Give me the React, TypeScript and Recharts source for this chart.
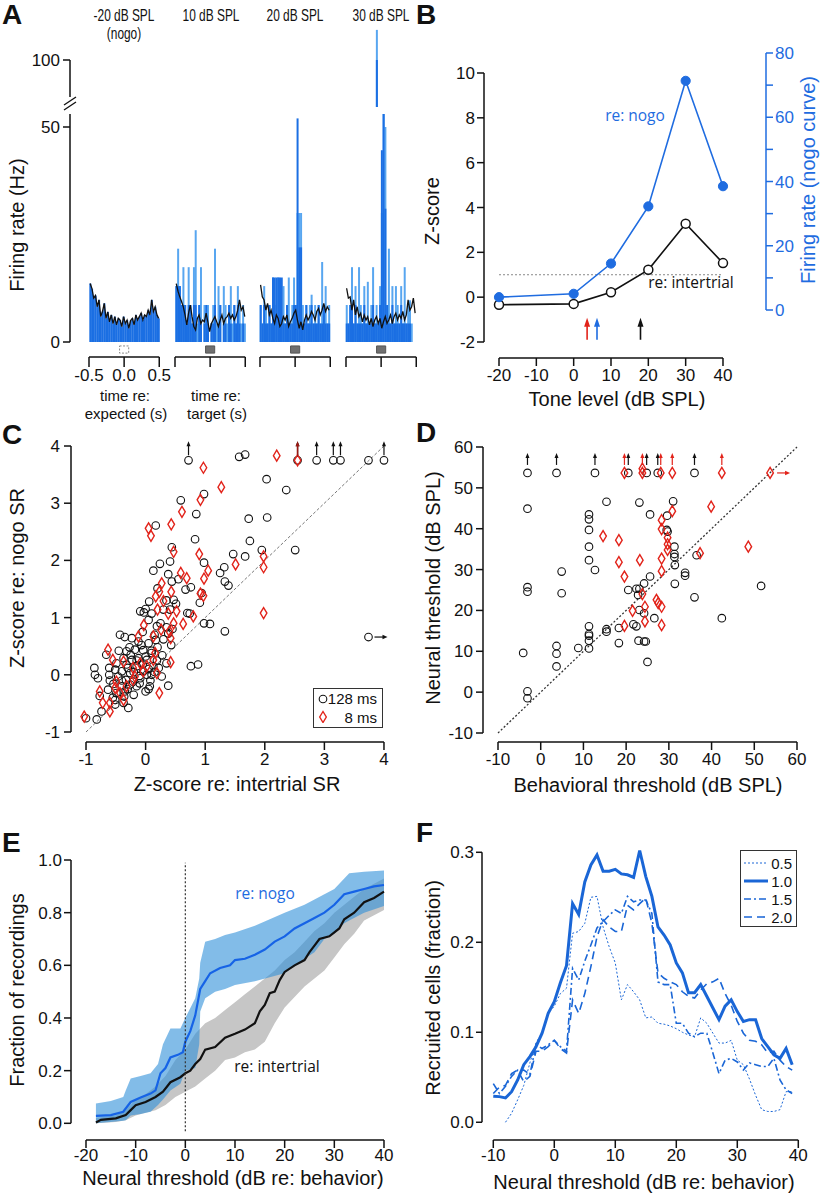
import React from 'react';
import {
  Area,
  Bar,
  ComposedChart,
  Line,
  ReferenceArea,
  ReferenceDot,
  ReferenceLine,
  Scatter,
  ScatterChart,
  XAxis,
  YAxis,
} from 'recharts';

const SANS = '"Liberation Sans", Arial, Helvetica, sans-serif';
const HUMANIST = '"Open Sans", "Noto Sans", sans-serif';
const INK = '#111';
const BLUE = '#1f6ce0';
const RED = '#e2231a';
const PSTH_DARK = '#1b6fe3';
const PSTH_LIGHT = '#58a6f0';

// ---------- A: PSTHs (Hz, 25 ms bins from -0.5 to 0.5 s) ----------
const NOGO_LINE = [13.6, 12.4, 10.2, 10.8, 8.2, 9.8, 5.9, 7.1, 9.0, 5.5, 7.0, 4.7, 6.3, 4.3, 5.9, 4.0, 5.5, 5.1, 3.6, 5.9, 4.3, 5.1, 3.2, 5.0, 5.5, 4.0, 6.3, 5.1, 5.9, 6.7, 5.1, 6.3, 5.9, 7.4, 6.3, 9.8, 7.1, 8.2, 6.3, 5.5];
const T10_LINE = [13.6, 11.8, 10.5, 9.4, 8.2, 6.3, 4.0, 6.7, 8.6, 5.9, 3.6, 2.8, 5.5, 6.3, 4.3, 5.1, 4.7, 6.7, 4.7, 2.4, 4.3, 5.1, 5.9, 4.7, 3.6, 5.1, 6.3, 4.3, 5.5, 5.9, 6.7, 5.5, 6.3, 5.1, 5.9, 7.4, 9.8, 7.4, 8.2, 5.9];
const T10_FINE = [13, 21.7, 13, 8.6, 17.4, 8.6, 4.3, 17.4, 8.6, 4.3, 17.4, 26, 4.3, 8.6, 17.4, 0, 8.6, 4.3, 8.6, 0, 4.3, 8.6, 21.7, 4.3, 13, 8.6, 0, 13, 8.6, 4.3, 8.6, 13, 4.3, 8.6, 4.3, 13, 8.6, 4.3, 8.6, 4.3];
const T10_COARSE = [13, 13, 13, 8.6, 8.6, 8.6, 4.3, 8.6, 8.6, 4.3, 8.6, 8.6, 0, 8.6, 4.3, 0, 4.3, 8.6, 4.3, 0, 4.3, 4.3, 8.6, 0, 4.3, 8.6, 0, 4.3, 4.3, 0, 8.6, 4.3, 0, 8.6, 4.3, 8.6, 4.3, 0, 4.3, 0];
const T20_LINE = [13.3, 10.5, 9.8, 7.4, 9.0, 6.3, 7.4, 5.5, 4.3, 6.3, 5.5, 3.6, 4.3, 5.9, 5.1, 6.3, 3.6, 4.7, 5.5, 6.7, 7.4, 5.1, 3.2, 4.7, 2.8, 5.1, 6.3, 5.1, 5.9, 7.1, 6.3, 5.1, 7.1, 7.8, 6.3, 7.4, 9.0, 7.1, 8.2, 7.4];
const T20_FINE = [8.6, 4.3, 13, 8.6, 4.3, 8.6, 4.3, 15, 8.6, 4.3, 15, 8.6, 4.3, 13, 4.3, 8.6, 15, 4.3, 8.6, 15, 8.6, 30, 30, 30, 8.6, 4.3, 8.6, 4.3, 8.6, 11, 4.3, 8.6, 4.3, 8.6, 4.3, 18.6, 8.6, 13, 4.3, 8.6];
const T20_COARSE = [8.6, 4.3, 8.6, 4.3, 4.3, 8.6, 4.3, 15, 15, 15, 15, 15, 15, 4.3, 4.3, 8.6, 4.3, 4.3, 4.3, 8.6, 8.6, 52, 22, 22, 4.3, 4.3, 8.6, 4.3, 4.3, 8.6, 4.3, 4.3, 4.3, 8.6, 4.3, 4.3, 8.6, 4.3, 4.3, 4.3];
const T30_LINE = [12.5, 10.2, 10.5, 7.4, 9.8, 6.3, 8.2, 5.9, 6.7, 4.7, 6.3, 5.1, 5.9, 4.0, 5.5, 3.6, 5.1, 5.9, 4.3, 5.5, 3.2, 4.7, 5.9, 4.3, 5.1, 6.3, 4.3, 5.9, 6.7, 5.1, 6.3, 5.5, 7.1, 5.1, 6.3, 9.8, 7.4, 8.2, 10.2, 6.7];
const T30_FINE = [8.6, 4.3, 8.6, 17.4, 4.3, 13, 4.3, 17.4, 8.6, 4.3, 13, 4.3, 14, 4.3, 8.6, 17.4, 4.3, 8.6, 4.3, 13, 30, 107, 50, 8.6, 21.7, 4.3, 13, 4.3, 13, 8.6, 4.3, 13, 4.3, 17.4, 4.3, 8.6, 9.7, 4.3, 0, 0];
const T30_COARSE = [4.3, 4.3, 8.6, 8.6, 4.3, 8.6, 4.3, 4.3, 4.3, 4.3, 8.6, 4.3, 4.3, 4.3, 4.3, 8.6, 4.3, 4.3, 4.3, 8.6, 44.6, 100, 31, 8.6, 4.3, 4.3, 8.6, 4.3, 4.3, 4.3, 4.3, 8.6, 4.3, 4.3, 4.3, 4.3, 4.3, 0, 0, 0];
const PSTH_TITLES = ['-20 dB SPL', '10 dB SPL', '20 dB SPL', '30 dB SPL'];
const STIM_WINDOW = [-0.065, 0.065];
const TIME_TICKS = [-0.5, 0, 0.5];
const BREAK_LOW = 89;

// ---------- B: one unit vs tone level ----------
const B_LEVELS = [-20, 0, 10, 20, 30, 40];
const B_NOGO_Z = [0.0, 0.15, 1.5, 4.05, 9.65, 4.95];
const B_INTERTRIAL_Z = [-0.34, -0.3, 0.22, 1.22, 3.28, 1.52];
const B_THRESHOLDS = [3.6, 6.25, 17.9];
const B_THRESHOLD_COLORS = [RED, BLUE, INK];

// ---------- C: z-scores [intertrial, nogo] ----------
const C_LONG_WIN: number[][] = [
  [0.72, 3.75], [2.55, 3.75], [2.87, 3.75], [3.15, 3.75], [3.27, 3.75], [3.74, 3.75], [4.0, 3.75],
  [1.57, 3.81], [1.67, 3.85], [2.03, 3.42], [2.36, 3.23], [0.98, 3.16], [0.59, 3.05], [0.85, 2.81], [1.73, 2.73],
  [2.04, 2.75], [0.17, 2.61], [0.83, 2.37], [1.75, 2.34], [0.44, 2.23], [1.95, 2.18], [2.51, 2.18], [1.47, 2.11],
  [1.67, 2.07], [0.24, 1.94], [0.41, 1.98], [0.98, 1.96], [0.13, 1.82], [0.38, 1.76], [0.55, 1.67], [0.44, 1.63],
  [1.25, 1.78], [1.32, 1.88], [1.33, 1.63], [1.39, 1.56], [0.67, 1.49], [0.76, 1.53], [0.91, 1.26], [0.94, 1.43],
  [0.2, 1.51], [0.06, 1.28], [0.35, 1.3], [0.47, 1.31], [0.51, 1.24], [0.7, 1.08], [0.74, 1.07], [-0.09, 1.11],
  [-0.03, 1.09], [0.0, 1.15], [0.1, 1.07], [0.3, 1.14], [0.41, 1.14], [0.98, 0.9], [1.08, 0.89], [1.33, 0.76],
  [0.05, 0.96], [0.19, 0.85], [0.25, 0.9], [0.35, 0.83], [-0.43, 0.7], [-0.35, 0.66], [-0.23, 0.64], [-0.12, 0.58],
  [-0.07, 0.52], [0.05, 0.55], [0.17, 0.61], [-0.27, 0.48], [-0.18, 0.44], [-0.32, 0.41], [-0.04, 0.43], [0.1, 0.38],
  [0.28, 0.34], [0.43, 0.52], [-0.66, 0.35], [-0.37, 0.29], [-0.23, 0.26], [-0.12, 0.29], [0.02, 0.26], [0.19, 0.25],
  [0.35, 0.2], [-0.49, 0.2], [-0.32, 0.18], [-0.15, 0.15], [0.13, 0.15], [-0.86, 0.12], [-0.61, 0.12], [-0.51, 0.09],
  [-0.4, 0.06], [-0.26, 0.03], [-0.04, 0.06], [0.02, 0.0], [-0.85, 0.0], [-0.8, -0.06], [-0.61, 0.0], [-0.46, -0.03],
  [-0.33, -0.09], [-0.21, -0.12], [-0.09, -0.06], [0.1, 0.0], [0.27, -0.03], [-0.54, -0.16], [-0.4, -0.2], [-0.26, -0.17],
  [-0.15, -0.2], [0.07, -0.2], [0.38, -0.19], [-0.63, -0.26], [-0.49, -0.32], [-0.35, -0.29], [0.0, -0.29], [0.05, -0.25],
  [-0.77, -0.37], [-0.51, -0.44], [-0.36, -0.38], [-0.37, -0.49], [-0.51, -0.52], [-0.29, -0.58], [-0.74, -0.64],
  [-0.82, -0.78], [-1.0, -0.76], [0.88, 0.18], [0.76, 0.15], [3.74, 0.66],
  [-0.25, 0.35], [-0.15, 0.25], [-0.05, 0.18], [0.05, 0.1], [0.15, 0.05], [-0.3, 0.12], [-0.2, 0.05], [-0.1, -0.02],
  [0.0, 0.32], [0.1, 0.42], [0.2, 0.48], [-0.4, -0.1], [-0.3, -0.25], [-0.2, -0.35], [-0.1, -0.15], [0.08, -0.1],
  [0.22, 0.12], [0.3, 0.62], [0.38, 0.72], [0.45, 0.8], [-0.45, 0.42], [-0.55, -0.4], [-0.6, -0.1], [0.15, 0.7], [-0.05, 0.75],
];
const C_SHORT_WIN: number[][] = [
  [2.2, 3.83], [0.97, 3.62], [1.27, 3.28], [0.92, 3.06], [0.61, 2.85], [0.43, 2.63], [0.05, 2.56], [0.09, 2.43],
  [0.9, 2.11], [0.47, 2.15], [1.98, 2.07], [1.51, 1.93], [1.98, 1.88], [0.59, 1.78], [0.69, 1.69], [1.05, 1.82],
  [0.98, 1.68], [0.27, 1.6], [0.23, 1.45], [0.43, 1.45], [0.92, 1.42], [0.97, 1.38], [0.17, 1.37], [0.3, 1.29],
  [0.2, 1.14], [0.52, 1.11], [0.8, 1.02], [1.98, 1.08], [0.38, 1.07], [-0.03, 0.87], [0.63, 0.89], [0.47, 0.9],
  [0.26, 0.79], [0.4, 0.76], [0.42, 0.64], [0.13, 0.67], [-0.12, 0.67], [-0.63, 0.44], [-0.55, 0.26], [0.16, 0.38],
  [0.42, 0.22], [-0.37, 0.23], [-0.21, 0.12], [-0.04, 0.06], [0.02, 0.15], [0.19, 0.03], [-0.49, -0.12], [-0.32, -0.2],
  [-0.18, -0.03], [-0.43, -0.32], [0.23, -0.32], [-0.72, -0.49], [-0.6, -0.64], [-0.6, -0.49], [-1.03, -0.73],
  [2.55, 3.75], [-0.21, -0.09], [-0.09, 0.2], [-0.37, -0.44], [-0.51, -0.23], [0.13, 0.26], [-0.77, -0.29],
];
const C_CEILING = 3.75;
const C_UP_LONG = [0.72, 2.55, 2.87, 3.15, 3.27, 4.0];
const C_UP_SHORT = [2.55];
const C_RIGHT_LONG: number[][] = [[3.74, 0.66]];

// ---------- D: thresholds [behavioral, neural] ----------
const D_LONG_WIN: number[][] = [
  [-3.1, 53.65], [3.7, 53.65], [12.7, 53.65], [20.5, 53.65], [24.8, 53.65], [27.4, 53.65], [36.0, 53.65],
  [-3.1, 44.9], [15.4, 46.6], [23.1, 46.4], [31.0, 46.7], [11.3, 43.5], [11.3, 42.3], [25.6, 43.5], [29.6, 43.2],
  [11.3, 39.7], [29.5, 39.7], [29.7, 39.3], [11.3, 35.6], [31.3, 35.6], [31.3, 33.8], [31.3, 33.1], [36.5, 33.5],
  [33.8, 29.2], [33.8, 28.5], [11.3, 32.3], [12.7, 29.9], [4.9, 29.5], [-3.1, 25.7], [-3.1, 24.6], [4.9, 24.2],
  [20.5, 25.0], [22.4, 25.3], [23.1, 25.3], [24.2, 26.6], [22.8, 23.8], [31.4, 31.1], [31.4, 26.5], [36.0, 23.2],
  [51.6, 26.0], [23.1, 20.1], [24.2, 19.3], [26.6, 18.1], [42.4, 18.1], [21.7, 16.6], [22.4, 16.1], [11.3, 16.1],
  [11.3, 14.2], [11.3, 13.8], [11.3, 12.6], [11.3, 10.7], [15.4, 15.4], [15.4, 14.8], [18.3, 15.7], [18.3, 12.0],
  [8.8, 10.8], [3.7, 11.3], [3.7, 9.4], [3.7, 6.3], [-4.1, 9.6], [22.9, 12.6], [24.2, 12.4], [24.6, 12.4],
  [25.0, 7.4], [-3.1, 0.2], [-3.1, -1.5], [25.6, 28.3],
];
const D_SHORT_WIN: number[][] = [
  [19.6, 53.65], [23.8, 54.7], [23.8, 53.65], [28.1, 53.65], [30.8, 53.65], [42.4, 53.65], [53.7, 53.65],
  [14.6, 38.2], [18.3, 37.2], [18.3, 31.8], [19.6, 28.3], [23.2, 32.3], [28.3, 42.1], [28.3, 39.9], [30.8, 44.3],
  [39.9, 45.4], [29.7, 37.8], [29.7, 36.2], [29.7, 34.8], [28.3, 32.7], [28.3, 29.6], [37.3, 34.0], [48.6, 35.6],
  [23.8, 24.0], [21.5, 19.9], [19.6, 16.2], [24.4, 20.9], [24.4, 17.3], [27.1, 22.6], [27.5, 21.8], [28.3, 20.9], [28.3, 16.4],
];
const D_CEILING = 53.65;
const D_UP_LONG = [-3.1, 3.7, 12.7, 20.5, 24.8, 27.4, 36.0];
const D_UP_SHORT = [19.6, 23.8, 28.1, 30.8, 42.4];
const D_RIGHT_SHORT: number[][] = [[53.7, 53.65]];

// ---------- E: cumulative fraction of recordings ----------
const E_NOGO_X = [-18, -15, -12.5, -11, -9, -7, -6, -5, -4, -3, -1.5, -0.5, 0, 1, 2, 3, 4, 5, 7, 9, 10, 12, 14, 16, 18, 20, 22, 24, 26, 28, 30, 32, 34, 36, 38, 40];
const E_NOGO_Y = [0.028, 0.031, 0.044, 0.081, 0.098, 0.113, 0.125, 0.19, 0.21, 0.25, 0.26, 0.27, 0.31, 0.35, 0.41, 0.51, 0.54, 0.57, 0.59, 0.6, 0.62, 0.625, 0.64, 0.66, 0.69, 0.71, 0.74, 0.76, 0.78, 0.8, 0.83, 0.87, 0.88, 0.89, 0.9, 0.905];
const E_INTER_X = [-18, -17, -14, -12, -11, -10, -8, -6, -4.5, -3, -1, 0, 1, 2, 3, 4, 6, 8, 10, 12, 14, 15, 16, 17, 18, 19, 20, 22, 24, 25, 26, 27, 29, 31, 32, 34, 36, 38, 40];
const E_INTER_Y = [0.003, 0.013, 0.019, 0.031, 0.05, 0.069, 0.081, 0.1, 0.12, 0.156, 0.175, 0.19, 0.2, 0.225, 0.244, 0.28, 0.29, 0.325, 0.34, 0.356, 0.38, 0.425, 0.45, 0.494, 0.5, 0.544, 0.575, 0.6, 0.62, 0.65, 0.675, 0.7, 0.71, 0.74, 0.775, 0.8, 0.84, 0.856, 0.88];
const E_NOGO_BAND_X = [-18, -15, -12.5, -12, -11, -9, -7, -5.5, -4.5, -3, -1, 0, 2, 2.8, 3, 4, 6, 8, 10, 14, 20, 24, 26, 28, 30, 32, 33, 36, 40];
const E_NOGO_BAND_LO = [0.0, 0.005, 0.01, 0.012, 0.03, 0.035, 0.044, 0.07, 0.09, 0.125, 0.15, 0.2, 0.21, 0.3, 0.425, 0.475, 0.5, 0.51, 0.525, 0.54, 0.57, 0.625, 0.65, 0.7, 0.72, 0.76, 0.77, 0.8, 0.825];
const E_NOGO_BAND_HI = [0.075, 0.085, 0.1, 0.125, 0.17, 0.18, 0.19, 0.225, 0.3, 0.36, 0.36, 0.4, 0.475, 0.55, 0.61, 0.69, 0.7, 0.715, 0.725, 0.75, 0.8, 0.83, 0.85, 0.87, 0.89, 0.93, 0.95, 0.955, 0.96];
const E_INTER_BAND_X = [-18, -14, -12, -10, -8, -6, -4, -2, 0, 2, 4, 6, 8, 10, 12, 14, 16, 18, 20, 22, 24, 26, 28, 30, 32, 34, 36, 38, 40];
const E_INTER_BAND_LO = [0.0, 0.005, 0.012, 0.03, 0.04, 0.05, 0.07, 0.1, 0.12, 0.14, 0.17, 0.2, 0.24, 0.25, 0.27, 0.28, 0.31, 0.38, 0.44, 0.48, 0.52, 0.55, 0.58, 0.63, 0.68, 0.72, 0.77, 0.79, 0.81];
const E_INTER_BAND_HI = [0.02, 0.03, 0.05, 0.09, 0.11, 0.14, 0.18, 0.24, 0.28, 0.34, 0.38, 0.4, 0.43, 0.46, 0.49, 0.52, 0.55, 0.58, 0.62, 0.65, 0.69, 0.73, 0.76, 0.8, 0.83, 0.86, 0.89, 0.91, 0.93];

// ---------- F: recruited cells by z criterion ----------
const F_THRESHOLDS = [-10, -9, -8, -7, -6, -5, -4, -3, -2, -1, 0, 1, 2, 3, 4, 5, 6, 7, 8, 9, 10, 11, 12, 13, 14, 15, 16, 17, 18, 19, 20, 21, 22, 23, 24, 25, 26, 27, 28, 29, 30, 31, 32, 33, 34, 35, 36, 37, 38, 39];
const F_Z05 = [null, null, 0.0, 0.01, 0.025, 0.041, 0.066, 0.088, 0.1, 0.121, 0.129, 0.143, 0.149, 0.21, 0.212, 0.221, 0.25, 0.251, 0.217, 0.195, 0.177, 0.136, 0.153, 0.145, 0.136, 0.116, 0.117, 0.11, 0.109, 0.107, 0.104, 0.1, 0.097, 0.095, 0.116, 0.11, 0.099, 0.088, 0.088, 0.091, 0.069, 0.064, 0.048, 0.03, 0.014, 0.012, 0.012, 0.014, 0.034, 0.034];
const F_Z10 = [0.029, 0.0285, 0.027, 0.034, 0.047, 0.064, 0.073, 0.084, 0.099, 0.121, 0.134, 0.155, 0.174, 0.243, 0.231, 0.267, 0.286, 0.297, 0.279, 0.279, 0.281, 0.276, 0.275, 0.272, 0.302, 0.273, 0.251, 0.217, 0.208, 0.197, 0.177, 0.166, 0.144, 0.144, 0.153, 0.14, 0.127, 0.114, 0.129, 0.136, 0.123, 0.112, 0.114, 0.114, 0.093, 0.084, 0.075, 0.071, 0.082, 0.064];
const F_Z15 = [0.043, 0.032, 0.04, 0.051, 0.058, 0.058, 0.053, 0.086, 0.082, 0.086, 0.091, 0.084, 0.079, 0.171, 0.158, 0.179, 0.197, 0.216, 0.223, 0.23, 0.236, 0.232, 0.251, 0.245, 0.247, 0.247, 0.232, 0.156, 0.153, 0.153, 0.11, 0.11, 0.099, 0.095, 0.099, 0.099, 0.077, 0.054, 0.069, 0.071, 0.067, 0.058, 0.066, 0.064, 0.062, 0.062, 0.071, 0.047, 0.036, 0.032];
const F_Z20 = [0.032, 0.039, 0.041, 0.054, 0.058, 0.045, 0.051, 0.079, 0.079, 0.084, 0.091, 0.082, 0.077, 0.136, 0.121, 0.143, 0.173, 0.206, 0.225, 0.217, 0.212, 0.212, 0.241, 0.236, 0.243, 0.249, 0.221, 0.166, 0.16, 0.156, 0.153, 0.145, 0.14, 0.138, 0.147, 0.154, 0.156, 0.16, 0.143, 0.13, 0.112, 0.099, 0.091, 0.09, 0.086, 0.077, 0.079, 0.069, 0.062, 0.058];
const F_CRITERIA = ['0.5', '1.0', '1.5', '2.0'];

// ---------- layout helpers ----------
type Box = { x0: number; x1: number; y0: number; y1: number };

function frame(box: Box, yW: number, rW: number, xH: number, mt = 0) {
  return {
    style: { position: 'absolute' as const, left: box.x0 - yW, top: box.y0 - mt },
    width: box.x1 - box.x0 + yW + rW,
    height: box.y1 - box.y0 + mt + xH,
    margin: { top: mt, right: 0, bottom: 0, left: 0 },
  };
}

const tickText = { fontSize: 17, fill: INK };
const tickStroke = { stroke: INK, strokeWidth: 1.5 };
const axisStroke = { stroke: INK, strokeWidth: 1.5 };

function Text({ x, y, children, size = 20, rotate = false, color = INK, family = SANS, squeeze = 1 }: any) {
  const t = `translate(-50%, -50%)${rotate ? ' rotate(-90deg)' : ''}${squeeze !== 1 ? ` scaleX(${squeeze})` : ''}`;
  return (
    <div style={{ position: 'absolute', left: x, top: y, transform: t, fontSize: size, fontFamily: family, color, lineHeight: 1, whiteSpace: 'nowrap' }}>
      {children}
    </div>
  );
}

function Letter({ x, y, children }: any) {
  return (
    <div style={{ position: 'absolute', left: x, top: y, fontSize: 28, fontWeight: 700, fontFamily: SANS, lineHeight: 1 }}>{children}</div>
  );
}

function upArrow(color: string, gap: number, len: number, headW: number, headH: number, width = 1.2) {
  return (p: any) => {
    const tip = p.cy - gap - len;
    return (
      <g>
        <line x1={p.cx} y1={p.cy - gap} x2={p.cx} y2={tip + headH - 1} stroke={color} strokeWidth={width} />
        <path d={`M${p.cx - headW / 2},${tip + headH} L${p.cx},${tip} L${p.cx + headW / 2},${tip + headH} Z`} fill={color} />
      </g>
    );
  };
}

function rightArrow(color: string, gap: number, len: number) {
  return (p: any) => {
    const tip = p.cx + gap + len;
    return (
      <g>
        <line x1={p.cx + gap} y1={p.cy} x2={tip - 4} y2={p.cy} stroke={color} strokeWidth={1.2} />
        <path d={`M${tip - 5},${p.cy - 2.2} L${tip},${p.cy} L${tip - 5},${p.cy + 2.2} Z`} fill={color} />
      </g>
    );
  };
}

const ringShape = (p: any) => <circle cx={p.cx} cy={p.cy} r={3.8} fill="none" stroke={INK} strokeWidth={1.1} />;
const diamondShape = (p: any) => (
  <path d={`M${p.cx},${p.cy - 5.5} L${p.cx + 3.3},${p.cy} L${p.cx},${p.cy + 5.5} L${p.cx - 3.3},${p.cy} Z`} fill="none" stroke={RED} strokeWidth={1.4} />
);

const pairsToRows = (pairs: number[][]) => pairs.map(([x, y]) => ({ x, y }));

// ---------- Panel A ----------
const PSTH_SETS = [
  { line: NOGO_LINE, fine: null as number[] | null, coarse: NOGO_LINE },
  { line: T10_LINE, fine: T10_FINE, coarse: T10_COARSE },
  { line: T20_LINE, fine: T20_FINE, coarse: T20_COARSE },
  { line: T30_LINE, fine: T30_FINE, coarse: T30_COARSE },
];
const PSTH_LEAD = 11;
const PSTH_GAPS = [9, 8, 9];
const HZ_PX = 4.3;
const A_BOX = { x0: 70, x1: 416, y0: 114, y1: 342 };
const A_TOP_BOX = { x0: 70, x1: 416, y0: 26, y1: 107 };

function buildPsth() {
  const rows: any[] = [];
  const starts: number[] = [];
  let i = 0;
  for (let k = 0; k < PSTH_LEAD; k++) rows.push({ i: i++ });
  PSTH_SETS.forEach((set, p) => {
    starts.push(i);
    set.line.forEach((v, j) => rows.push({ i: i++, line: v, fine: set.fine ? set.fine[j] : undefined, coarse: set.coarse[j] }));
    if (p < PSTH_GAPS.length) for (let k = 0; k < PSTH_GAPS[p]; k++) rows.push({ i: i++ });
  });
  return { rows, starts, total: i };
}

function PanelA() {
  const { rows, starts, total } = buildPsth();
  const topRows = rows.map((r) => ({
    i: r.i,
    fine: r.fine != null && r.fine > BREAK_LOW ? r.fine : undefined,
    coarse: r.coarse != null && r.coarse > BREAK_LOW ? r.coarse : undefined,
  }));
  const binW = (A_BOX.x1 - A_BOX.x0) / total;
  const low = frame(A_BOX, 70, 0, 0);
  const high = frame(A_TOP_BOX, 70, 0, 0);
  const axisBox = { x0: 70, x1: 71, y0: 60, y1: 97 };
  const ax = frame(axisBox, 70, 0, 0);
  const binLen = PSTH_SETS[0].line.length;

  const psthSeries = [
    <XAxis key="xf" xAxisId="fine" dataKey="i" type="category" hide />,
    <XAxis key="xc" xAxisId="coarse" dataKey="i" type="category" hide />,
    <Bar key="bf" xAxisId="fine" dataKey="fine" fill={PSTH_LIGHT} isAnimationActive={false} />,
    <Bar key="bc" xAxisId="coarse" dataKey="coarse" fill={PSTH_DARK} isAnimationActive={false} />,
  ];

  return (
    <>
      <Letter x={2} y={1}>A</Letter>
      {PSTH_TITLES.map((t, p) => (
        <Text key={t} x={A_BOX.x0 + (starts[p] + binLen / 2) * binW} y={15} size={17} squeeze={0.7}>{t}</Text>
      ))}
      <Text x={A_BOX.x0 + (starts[0] + binLen / 2) * binW} y={33} size={17} squeeze={0.7}>(nogo)</Text>
      <Text x={17} y={225} rotate>Firing rate (Hz)</Text>

      <div style={low.style}>
        <ComposedChart width={low.width} height={low.height} margin={low.margin} data={rows} barCategoryGap={0} barGap={0}>
          {psthSeries}
          <YAxis type="number" domain={[0, (A_BOX.y1 - A_BOX.y0) / HZ_PX]} allowDataOverflow ticks={[0, 50]} interval={0}
            width={70} axisLine={axisStroke} tickLine={tickStroke} tickSize={7} tickMargin={3} tick={tickText} />
          <Line xAxisId="coarse" dataKey="line" stroke={INK} strokeWidth={1.3} dot={false} isAnimationActive={false} />
        </ComposedChart>
      </div>

      <div style={high.style}>
        <ComposedChart width={high.width} height={high.height} margin={high.margin} data={topRows} barCategoryGap={0} barGap={0}>
          {psthSeries}
          <YAxis type="number" hide domain={[100 - (A_TOP_BOX.y1 - 60) / HZ_PX, 100 + (60 - A_TOP_BOX.y0) / HZ_PX]} allowDataOverflow />
        </ComposedChart>
      </div>

      <div style={ax.style}>
        <ComposedChart width={ax.width} height={ax.height} margin={ax.margin} data={topRows}>
          <XAxis dataKey="i" type="category" hide />
          <YAxis type="number" domain={[100 - 37 / HZ_PX, 100]} allowDataOverflow ticks={[100]} interval={0}
            width={70} axisLine={axisStroke} tickLine={tickStroke} tickSize={7} tickMargin={3} tick={tickText} />
          <Line dataKey="fine" stroke="none" dot={false} isAnimationActive={false} />
        </ComposedChart>
      </div>

      <svg style={{ position: 'absolute', left: 62, top: 94, overflow: 'visible' }} width={16} height={18}>
        <line x1={2} y1={11} x2={14} y2={3} stroke={INK} strokeWidth={1.3} />
        <line x1={2} y1={16} x2={14} y2={8} stroke={INK} strokeWidth={1.3} />
      </svg>

      {starts.map((s, p) => {
        const x0 = A_BOX.x0 + s * binW;
        const b = frame({ x0, x1: x0 + binLen * binW, y0: 344, y1: 357 }, 0, 0, 40);
        return (
          <div key={p} style={b.style}>
            <ComposedChart width={b.width} height={b.height} margin={b.margin} data={TIME_TICKS.map((t) => ({ t }))}>
              <XAxis type="number" dataKey="t" domain={[-0.5, 0.5]} ticks={TIME_TICKS} interval={0}
                axisLine={axisStroke} tickLine={tickStroke} tickSize={10} tickMargin={2} height={40}
                tick={tickText} tickFormatter={(v: number) => (p === 0 ? v.toFixed(1) : '')} />
              <YAxis type="number" hide domain={[0, 1]} allowDataOverflow />
              <Line dataKey="t" stroke="none" dot={false} isAnimationActive={false} />
              <ReferenceArea x1={STIM_WINDOW[0]} x2={STIM_WINDOW[1]} y1={0.3} y2={0.85}
                fill={p === 0 ? 'none' : '#6f6f6f'} fillOpacity={1}
                stroke={p === 0 ? '#8a8a8a' : '#555'} strokeWidth={1} strokeDasharray={p === 0 ? '2 1.5' : undefined} />
            </ComposedChart>
          </div>
        );
      })}
      <Text x={125} y={395} size={15}>time re:</Text>
      <Text x={126} y={413} size={15}>expected (s)</Text>
      <Text x={216} y={395} size={15}>time re:</Text>
      <Text x={217} y={413} size={15}>target (s)</Text>
    </>
  );
}

// ---------- Panel B ----------
const B_BOX = { x0: 484, x1: 766, y0: 53, y1: 358 };

function PanelB() {
  const rows = B_LEVELS.map((level, i) => ({ level, nogo: B_NOGO_Z[i], inter: B_INTERTRIAL_Z[i] }));
  const f = frame(B_BOX, 60, 50, 40);
  const xDom = [-24.02, 51.52];
  const zDom = [-2.714, 10.892];
  return (
    <>
      <Letter x={416} y={1}>B</Letter>
      <div style={f.style}>
        <ComposedChart width={f.width} height={f.height} margin={f.margin} data={rows}>
          <XAxis type="number" dataKey="level" domain={xDom} allowDataOverflow ticks={[-20, -10, 0, 10, 20, 30, 40]} interval={0}
            height={40} axisLine={false} tickLine={tickStroke} tickSize={8} tickMargin={3} tick={tickText} />
          <YAxis type="number" domain={zDom} allowDataOverflow ticks={[-2, 0, 2, 4, 6, 8, 10]} interval={0}
            width={60} axisLine={false} tickLine={tickStroke} tickSize={7} tickMargin={2} tick={tickText} />
          <YAxis yAxisId="right" orientation="right" type="number" domain={[-14.94, 80]} allowDataOverflow
            ticks={[0, 10, 20, 30, 40, 50, 60, 70, 80]} interval={0} width={50} axisLine={false}
            tickLine={{ stroke: BLUE, strokeWidth: 1.5 }} tickSize={7} tickMargin={2}
            tick={{ fontSize: 17, fill: BLUE }} tickFormatter={(v: number) => (v % 20 === 0 ? String(v) : '')} />
          <ReferenceLine segment={[{ x: xDom[0], y: -2 }, { x: xDom[0], y: 10 }]} {...axisStroke} ifOverflow="visible" />
          <ReferenceLine segment={[{ x: -20, y: zDom[0] }, { x: 40, y: zDom[0] }]} {...axisStroke} ifOverflow="visible" />
          <ReferenceLine yAxisId="right" segment={[{ x: xDom[1], y: 0 }, { x: xDom[1], y: 80 }]} stroke={BLUE} strokeWidth={1.5} ifOverflow="visible" />
          <ReferenceLine segment={[{ x: -20, y: 1 }, { x: 40, y: 1 }]} stroke="#888" strokeWidth={1} strokeDasharray="2 2" ifOverflow="visible" />
          <Line dataKey="inter" stroke={INK} strokeWidth={1.6} isAnimationActive={false} activeDot={false}
            dot={{ r: 4.5, fill: '#fff', stroke: INK, strokeWidth: 1.5 }} />
          <Line dataKey="nogo" stroke={BLUE} strokeWidth={1.6} isAnimationActive={false} activeDot={false}
            dot={{ r: 4.6, fill: BLUE, stroke: BLUE, strokeWidth: 1 }} />
          {B_THRESHOLDS.map((lvl, i) => (
            <ReferenceDot key={lvl} x={lvl} y={-1.9} ifOverflow="visible" shape={upArrow(B_THRESHOLD_COLORS[i], 0, 22, 6, 9, 1.6)} />
          ))}
        </ComposedChart>
      </div>
      <Text x={432} y={211} rotate>Z-score</Text>
      <Text x={617} y={399}>Tone level (dB SPL)</Text>
      <Text x={808} y={180} rotate color={BLUE}>Firing rate (nogo curve)</Text>
      <Text x={635} y={116} size={15.5} family={HUMANIST} color={BLUE}>re: nogo</Text>
      <Text x={691} y={283} size={15.5} family={HUMANIST}>re: intertrial</Text>
    </>
  );
}

// ---------- Panel C ----------
const C_BOX = { x0: 71, x1: 395, y0: 440, y1: 742 };

function PanelC() {
  const f = frame(C_BOX, 60, 0, 40);
  const xDom = [-1.252, 4.185];
  const yDom = [-1.175, 4.105];
  const ticks = [-1, 0, 1, 2, 3, 4];
  return (
    <>
      <Letter x={2} y={421}>C</Letter>
      <div style={f.style}>
        <ScatterChart width={f.width} height={f.height} margin={f.margin}>
          <XAxis type="number" dataKey="x" domain={xDom} allowDataOverflow ticks={ticks} interval={0} height={40}
            axisLine={false} tickLine={tickStroke} tickSize={8} tickMargin={3} tick={tickText} />
          <YAxis type="number" dataKey="y" domain={yDom} allowDataOverflow ticks={ticks} interval={0} width={60}
            axisLine={false} tickLine={tickStroke} tickSize={7} tickMargin={4} tick={tickText} />
          <ReferenceLine segment={[{ x: xDom[0], y: -1 }, { x: xDom[0], y: 4 }]} {...axisStroke} ifOverflow="visible" />
          <ReferenceLine segment={[{ x: -1, y: yDom[0] }, { x: 4, y: yDom[0] }]} {...axisStroke} ifOverflow="visible" />
          <ReferenceLine segment={[{ x: -1, y: -1 }, { x: 4, y: 4 }]} stroke="#777" strokeWidth={1} strokeDasharray="3 2" ifOverflow="visible" />
          <Scatter data={pairsToRows(C_LONG_WIN)} shape={ringShape} isAnimationActive={false} />
          <Scatter data={pairsToRows(C_SHORT_WIN)} shape={diamondShape} isAnimationActive={false} />
          {C_UP_LONG.map((x) => (
            <ReferenceDot key={`ul${x}`} x={x} y={C_CEILING} ifOverflow="visible" shape={upArrow(INK, 5, 14, 4, 5)} />
          ))}
          {C_UP_SHORT.map((x) => (
            <ReferenceDot key={`us${x}`} x={x} y={C_CEILING} ifOverflow="visible" shape={upArrow('#9b1a14', 5, 14, 4, 5, 1.6)} />
          ))}
          {C_RIGHT_LONG.map(([x, y]) => (
            <ReferenceDot key={`rl${x}`} x={x} y={y} ifOverflow="visible" shape={rightArrow(INK, 6, 13)} />
          ))}
        </ScatterChart>
      </div>
      <div style={{ position: 'absolute', left: 313, top: 688, width: 70, height: 40, border: '1.5px solid #333', boxSizing: 'border-box' }}>
        <svg style={{ position: 'absolute', left: 4, top: 4 }} width={12} height={30}>
          <circle cx={5} cy={6} r={3.8} fill="none" stroke={INK} strokeWidth={1.1} />
          <path d="M5,19.5 L8.3,25 L5,30.5 L1.7,25 Z" fill="none" stroke={RED} strokeWidth={1.4} transform="translate(0,-1)" />
        </svg>
        <div style={{ position: 'absolute', right: 5, top: 2, fontSize: 15, lineHeight: 1 }}>128 ms</div>
        <div style={{ position: 'absolute', right: 5, top: 21, fontSize: 15, lineHeight: 1 }}>8 ms</div>
      </div>
      <Text x={17} y={578} rotate>Z-score re: nogo SR</Text>
      <Text x={237} y={784}>Z-score re: intertrial SR</Text>
    </>
  );
}

// ---------- Panel D ----------
const D_BOX = { x0: 483, x1: 800, y0: 440, y1: 742 };

function PanelD() {
  const f = frame(D_BOX, 60, 0, 40);
  const xDom = [-13.512, 60.702];
  const yDom = [-12.203, 61.713];
  const ticks = [-10, 0, 10, 20, 30, 40, 50, 60];
  return (
    <>
      <Letter x={416} y={419}>D</Letter>
      <div style={f.style}>
        <ScatterChart width={f.width} height={f.height} margin={f.margin}>
          <XAxis type="number" dataKey="x" domain={xDom} allowDataOverflow ticks={ticks} interval={0} height={40}
            axisLine={false} tickLine={tickStroke} tickSize={8} tickMargin={3} tick={tickText} />
          <YAxis type="number" dataKey="y" domain={yDom} allowDataOverflow ticks={ticks} interval={0} width={60}
            axisLine={false} tickLine={tickStroke} tickSize={7} tickMargin={3} tick={tickText} />
          <ReferenceLine segment={[{ x: xDom[0], y: -10 }, { x: xDom[0], y: 60 }]} {...axisStroke} ifOverflow="visible" />
          <ReferenceLine segment={[{ x: -10, y: yDom[0] }, { x: 60, y: yDom[0] }]} {...axisStroke} ifOverflow="visible" />
          <ReferenceLine segment={[{ x: -10, y: -10 }, { x: 60, y: 60 }]} stroke="#333" strokeWidth={1.3} strokeDasharray="2 2" ifOverflow="visible" />
          <Scatter data={pairsToRows(D_LONG_WIN)} shape={ringShape} isAnimationActive={false} />
          <Scatter data={pairsToRows(D_SHORT_WIN)} shape={diamondShape} isAnimationActive={false} />
          {D_UP_LONG.map((x) => (
            <ReferenceDot key={`ul${x}`} x={x} y={D_CEILING} ifOverflow="visible" shape={upArrow(INK, 8, 12, 4, 5)} />
          ))}
          {D_UP_SHORT.map((x) => (
            <ReferenceDot key={`us${x}`} x={x} y={D_CEILING} ifOverflow="visible" shape={upArrow(RED, 8, 12, 4, 5)} />
          ))}
          {D_RIGHT_SHORT.map(([x, y]) => (
            <ReferenceDot key={`rs${x}`} x={x} y={y} ifOverflow="visible" shape={rightArrow(RED, 7, 13)} />
          ))}
        </ScatterChart>
      </div>
      <Text x={433} y={588} rotate>Neural threshold (dB SPL)</Text>
      <Text x={648} y={785}>Behavioral threshold (dB SPL)</Text>
    </>
  );
}

// ---------- Panel E ----------
const E_BOX = { x0: 71, x1: 390, y0: 848, y1: 1140 };

function PanelE() {
  const f = frame(E_BOX, 60, 0, 40);
  const xDom = [-23.02, 41.21];
  const yDom = [-0.0634, 1.0456];
  const nogo = E_NOGO_X.map((x, i) => ({ x, y: E_NOGO_Y[i] }));
  const inter = E_INTER_X.map((x, i) => ({ x, y: E_INTER_Y[i] }));
  const nogoBand = E_NOGO_BAND_X.map((x, i) => ({ x, range: [E_NOGO_BAND_LO[i], E_NOGO_BAND_HI[i]] }));
  const interBand = E_INTER_BAND_X.map((x, i) => ({ x, range: [E_INTER_BAND_LO[i], E_INTER_BAND_HI[i]] }));
  return (
    <>
      <Letter x={2} y={829}>E</Letter>
      <div style={f.style}>
        <ComposedChart width={f.width} height={f.height} margin={f.margin}>
          <XAxis type="number" dataKey="x" domain={xDom} allowDataOverflow ticks={[-20, -10, 0, 10, 20, 30, 40]} interval={0}
            height={40} axisLine={false} tickLine={tickStroke} tickSize={8} tickMargin={1} tick={tickText} />
          <YAxis type="number" domain={yDom} allowDataOverflow ticks={[0, 0.2, 0.4, 0.6, 0.8, 1.0]} interval={0} width={60}
            axisLine={false} tickLine={tickStroke} tickSize={7} tickMargin={2} tick={tickText}
            tickFormatter={(v: number) => v.toFixed(1)} />
          <ReferenceLine segment={[{ x: xDom[0], y: 0 }, { x: xDom[0], y: 1 }]} {...axisStroke} ifOverflow="visible" />
          <ReferenceLine segment={[{ x: -20, y: yDom[0] }, { x: 40, y: yDom[0] }]} {...axisStroke} ifOverflow="visible" />
          <Area data={interBand} dataKey="range" type="linear" stroke="none" fill="#c6c6c6" fillOpacity={1} isAnimationActive={false} />
          <Area data={nogoBand} dataKey="range" type="linear" stroke="none" fill="#2f8fd8" fillOpacity={0.6} isAnimationActive={false} />
          <Line data={inter} dataKey="y" stroke={INK} strokeWidth={2.2} dot={false} activeDot={false} isAnimationActive={false} />
          <Line data={nogo} dataKey="y" stroke="#1663e6" strokeWidth={2.2} dot={false} activeDot={false} isAnimationActive={false} />
          <ReferenceLine segment={[{ x: 0, y: -0.03 }, { x: 0, y: 0.99 }]} stroke="#333" strokeWidth={1.2} strokeDasharray="2 2" ifOverflow="visible" />
        </ComposedChart>
      </div>
      <Text x={265} y={894} size={15.5} family={HUMANIST} color={BLUE}>re: nogo</Text>
      <Text x={277} y={1067} size={15.5} family={HUMANIST}>re: intertrial</Text>
      <Text x={17} y={990} rotate>Fraction of recordings</Text>
      <Text x={233} y={1178}>Neural threshold (dB re: behavior)</Text>
    </>
  );
}

// ---------- Panel F ----------
const F_BOX = { x0: 482, x1: 800, y0: 845, y1: 1140 };
const F_LINE_COLOR = '#1a66d6';
const F_STYLES = [
  { width: 1, dash: '2 2' },
  { width: 3, dash: undefined as string | undefined },
  { width: 1.6, dash: '7 3 2 3' },
  { width: 1.6, dash: '8 5' },
];

function PanelF() {
  const f = frame(F_BOX, 60, 0, 40);
  const xDom = [-11.85, 40.28];
  const yDom = [-0.0197, 0.3081];
  const rows = F_THRESHOLDS.map((x, i) => ({ x, z05: F_Z05[i], z10: F_Z10[i], z15: F_Z15[i], z20: F_Z20[i] }));
  const keys = ['z05', 'z10', 'z15', 'z20'];
  return (
    <>
      <Letter x={416} y={819}>F</Letter>
      <div style={f.style}>
        <ComposedChart width={f.width} height={f.height} margin={f.margin} data={rows}>
          <XAxis type="number" dataKey="x" domain={xDom} allowDataOverflow ticks={[-10, 0, 10, 20, 30, 40]} interval={0}
            height={40} axisLine={false} tickLine={tickStroke} tickSize={8} tickMargin={1} tick={tickText} />
          <YAxis type="number" domain={yDom} allowDataOverflow ticks={[0, 0.1, 0.2, 0.3]} interval={0} width={60}
            axisLine={false} tickLine={tickStroke} tickSize={6} tickMargin={2} tick={tickText}
            tickFormatter={(v: number) => v.toFixed(1)} />
          <ReferenceLine segment={[{ x: xDom[0], y: 0 }, { x: xDom[0], y: 0.3 }]} {...axisStroke} ifOverflow="visible" />
          <ReferenceLine segment={[{ x: -10, y: yDom[0] }, { x: 40, y: yDom[0] }]} {...axisStroke} ifOverflow="visible" />
          {keys.map((k, i) => (
            <Line key={k} dataKey={k} stroke={F_LINE_COLOR} strokeWidth={F_STYLES[i].width} strokeDasharray={F_STYLES[i].dash}
              dot={false} activeDot={false} isAnimationActive={false} />
          ))}
        </ComposedChart>
      </div>
      <div style={{ position: 'absolute', left: 740, top: 850, width: 57, height: 77, border: '1.5px solid #333', boxSizing: 'border-box' }}>
        {F_CRITERIA.map((c, i) => (
          <div key={c} style={{ position: 'absolute', left: 0, top: 4 + i * 18, width: 54, height: 16 }}>
            <svg style={{ position: 'absolute', left: 2, top: 0 }} width={26} height={16}>
              <line x1={1} y1={8} x2={25} y2={8} stroke={F_LINE_COLOR} strokeWidth={F_STYLES[i].width} strokeDasharray={F_STYLES[i].dash} />
            </svg>
            <div style={{ position: 'absolute', right: 3, top: 1, fontSize: 15, lineHeight: 1 }}>{c}</div>
          </div>
        ))}
      </div>
      <Text x={433} y={988} rotate>Recruited cells (fraction)</Text>
      <Text x={644} y={1182}>Neural threshold (dB re: behavior)</Text>
    </>
  );
}

export default function App() {
  return (
    <div style={{ position: 'absolute', left: 0, top: 0, width: 820, height: 1195, background: '#fff', fontFamily: SANS, color: INK, overflow: 'hidden' }}>
      <style>{'.recharts-surface { overflow: visible; } .recharts-wrapper { overflow: visible; }'}</style>
      <PanelA />
      <PanelB />
      <PanelC />
      <PanelD />
      <PanelE />
      <PanelF />
    </div>
  );
}
